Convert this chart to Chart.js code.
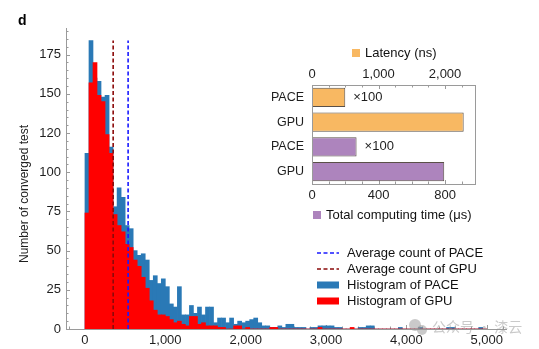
<!DOCTYPE html>
<html>
<head>
<meta charset="utf-8">
<script src="https://cdn.jsdelivr.net/npm/chart.js@4.4.1/dist/chart.umd.min.js"></script>
<style>
  html, body { margin: 0; padding: 0; background: #fff; }
  #wrap { position: relative; width: 539px; height: 349px; overflow: hidden; }
  #main { position: absolute; left: 0; top: 0; }
  #inset { position: absolute; left: 255px; top: 40px; }
</style>
</head>
<body>
<div id="wrap">
  <canvas id="main" width="539" height="349"></canvas>
  <canvas id="inset" width="240" height="190"></canvas>
</div>
<script>
// ---- histogram data: convergence counts per 50-wide bin, starting at 0 ----
const binWidth = 50;
const paceCounts = [
  112, 184, 160, 158, 148, 149, 116, 78, 90, 84,
  66, 64, 50, 47, 48, 44, 31, 34, 29, 32,
  27, 16, 14, 27, 9, 9, 15, 10, 14, 9,
  14, 14, 4, 7, 7, 4, 7, 3, 5, 4,
  5, 6, 7, 4, 2, 2, 1, 1, 2, 1,
  3, 3, 1, 1, 1, 0, 1, 1, 2, 2,
  2, 2, 1, 1, 0, 0, 0, 0, 1, 1,
  2, 2, 0, 0, 0, 0, 0, 0, 1, 0,
  0, 0, 0, 1, 0, 0, 0, 0, 0, 0,
  1, 1, 0, 0, 0, 0, 0, 0, 1, 0
];
const gpuCounts = [
  74, 157, 170, 149, 145, 124, 112, 73, 66, 62,
  54, 52, 44, 40, 33, 26, 18, 12, 9, 9,
  8, 6, 4, 5, 3, 2, 8, 8, 3, 4,
  2, 2, 2, 1, 1, 0, 0, 2, 2, 0,
  1, 0, 0, 0, 0, 0, 1, 1, 0, 0,
  0, 0, 0, 0, 0, 0, 0, 0, 1, 0,
  0, 0, 0, 0, 0, 0, 1, 0, 0, 0,
  0, 0, 0, 0, 0, 0, 0, 0, 0, 0,
  0, 0, 0, 0, 0, 0, 0, 0, 0, 0,
  0, 0, 0, 0, 0, 0, 0, 0, 0, 0
];
const paceAvg = 537;
const gpuAvg = 351;
const avgLineTop = 184;

const xTickValues = [0, 1000, 2000, 3000, 4000, 5000];
const yTickValues = [0, 25, 50, 75, 100, 125, 150, 175];
const yTickLabels = ['0', '25', '50', '75', '100', '120', '150', '175'];

// ---- inset data ----
const insetRows = ['PACE', 'GPU', 'PACE', 'GPU'];
const latencyNs = [500, 2280];        // PACE, GPU
const totalTimeUs = [268, 795];       // PACE, GPU
const speedupLabel = '\u00d7100';
const latencyTicks = [0, 1000, 2000];
const totalTimeTicks = [0, 400, 800];

const FONT = "'Liberation Sans', Arial, Helvetica, sans-serif";
const AXIS_GREY = '#9a9a9a';
const TEXT = '#1e1e1e';
const PACE_BLUE = '#2a79b6';
const GPU_RED = '#ff0000';
const PACE_DASH = '#1a1aff';
const GPU_DASH = '#8b0a0a';
const ORANGE = '#f8b862';
const PURPLE = '#ad84bd';

Chart.defaults.font.family = FONT;
Chart.defaults.font.size = 13;
Chart.defaults.color = TEXT;

function range(from, to, step) {
  const out = [];
  for (let v = from; v <= to + 1e-9; v += step) out.push(v);
  return out;
}
const fmt = v => Number(v).toLocaleString('en-US');

// small inward tick marks along the chart area edges
const inwardTicks = {
  id: 'inwardTicks',
  beforeDatasetsDraw(chart, args, opts) {
    const ctx = chart.ctx;
    const area = chart.chartArea;
    ctx.save();
    ctx.strokeStyle = opts.color || AXIS_GREY;
    ctx.lineWidth = 1;
    (opts.marks || []).forEach(m => {
      const scale = chart.scales[m.axis];
      m.values.forEach(v => {
        const p = Math.round(scale.getPixelForValue(v)) + 0.5;
        ctx.beginPath();
        if (m.edge === 'bottom') {
          ctx.moveTo(p, area.bottom); ctx.lineTo(p, area.bottom - m.len);
        } else if (m.edge === 'top') {
          ctx.moveTo(p, area.top); ctx.lineTo(p, area.top + m.len);
        } else {
          ctx.moveTo(area.left, p); ctx.lineTo(area.left + m.len, p);
        }
        ctx.stroke();
      });
    });
    ctx.restore();
  }
};

// axis title, panel letter, legend and watermark
const mainDecor = {
  id: 'mainDecor',
  afterDraw(chart) {
    const ctx = chart.ctx;
    ctx.save();

    ctx.fillStyle = '#000';
    ctx.font = 'bold 14px ' + FONT;
    ctx.textAlign = 'left';
    ctx.textBaseline = 'alphabetic';
    ctx.fillText('d', 18, 25);

    ctx.save();
    ctx.translate(25, 194);
    ctx.rotate(-Math.PI / 2);
    ctx.textAlign = 'center';
    ctx.textBaseline = 'middle';
    ctx.font = '12px ' + FONT;
    ctx.fillStyle = TEXT;
    ctx.fillText('Number of converged test', 0, 0);
    ctx.restore();

    // legend
    let y = 253;
    chart.data.datasets.forEach(ds => {
      if (ds.type === 'line') {
        ctx.strokeStyle = ds.borderColor;
        ctx.lineWidth = ds.borderWidth;
        ctx.setLineDash(ds.borderDash);
        ctx.beginPath();
        ctx.moveTo(317, y);
        ctx.lineTo(339, y);
        ctx.stroke();
        ctx.setLineDash([]);
      } else {
        ctx.fillStyle = ds.backgroundColor;
        ctx.fillRect(317, y - 3.5, 22, 7);
      }
      ctx.fillStyle = '#111';
      ctx.font = '13px ' + FONT;
      ctx.textAlign = 'left';
      ctx.textBaseline = 'middle';
      ctx.fillText(ds.label, 347, y);
      y += 16;
    });

    // faint watermark with a small chat-bubble icon
    ctx.fillStyle = 'rgba(150,150,150,0.5)';
    ctx.beginPath();
    ctx.arc(415, 325, 6, 0, Math.PI * 2);
    ctx.fill();
    ctx.beginPath();
    ctx.arc(422, 330, 5, 0, Math.PI * 2);
    ctx.fill();
    ctx.font = '14px "Noto Sans CJK SC", sans-serif';
    ctx.textBaseline = 'middle';
    ctx.fillText('公众号 · 漆云', 432, 327);
    ctx.restore();
  }
};

const binData = counts => counts.map((c, i) => ({ x: i * binWidth + binWidth / 2, y: c }));

new Chart(document.getElementById('main'), {
  type: 'bar',
  data: {
    datasets: [
      {
        type: 'line', label: 'Average count of PACE',
        data: [{ x: paceAvg, y: 0 }, { x: paceAvg, y: avgLineTop }],
        borderColor: PACE_DASH, borderWidth: 1.6, borderDash: [4, 2.5],
        pointRadius: 0, order: 0
      },
      {
        type: 'line', label: 'Average count of GPU',
        data: [{ x: gpuAvg, y: 0 }, { x: gpuAvg, y: avgLineTop }],
        borderColor: GPU_DASH, borderWidth: 1.6, borderDash: [4, 2.5],
        pointRadius: 0, order: 0
      },
      {
        label: 'Histogram of PACE', data: binData(paceCounts),
        backgroundColor: PACE_BLUE, borderWidth: 0,
        barPercentage: 1, categoryPercentage: 1, grouped: false, order: 2
      },
      {
        label: 'Histogram of GPU', data: binData(gpuCounts),
        backgroundColor: GPU_RED, borderWidth: 0,
        barPercentage: 1, categoryPercentage: 1, grouped: false, order: 1
      }
    ]
  },
  options: {
    responsive: false,
    animation: false,
    layout: { padding: { top: 28, right: 33, left: 0, bottom: 0 } },
    plugins: {
      legend: { display: false },
      tooltip: { enabled: false },
      inwardTicks: {
        color: AXIS_GREY,
        marks: [
          { axis: 'x', edge: 'bottom', values: xTickValues, len: 4 },
          { axis: 'x', edge: 'bottom', values: range(-200, 5200, 200), len: 2.5 },
          { axis: 'y', edge: 'left', values: yTickValues, len: 4 },
          { axis: 'y', edge: 'left', values: range(0, 190, 5), len: 2.5 }
        ]
      }
    },
    scales: {
      x: {
        type: 'linear', min: -236, max: 5240, offset: false,
        afterBuildTicks: s => { s.ticks = xTickValues.map(v => ({ value: v })); },
        afterFit: s => { s.height = 20; },
        grid: { display: false, drawTicks: false },
        border: { color: AXIS_GREY, width: 1 },
        ticks: { callback: v => fmt(v), padding: 4, maxRotation: 0, color: TEXT }
      },
      y: {
        min: 0, max: 192,
        afterBuildTicks: s => { s.ticks = yTickValues.map(v => ({ value: v })); },
        afterFit: s => { s.width = 66; },
        grid: { display: false, drawTicks: false },
        border: { color: AXIS_GREY, width: 1 },
        ticks: { callback: (v, i) => yTickLabels[i], padding: 5, color: TEXT }
      }
    }
  },
  plugins: [inwardTicks, mainDecor]
});

// ---- inset: latency / total computing time ----
const insetDecor = {
  id: 'insetDecor',
  afterDraw(chart) {
    const ctx = chart.ctx;
    const a = chart.chartArea;
    ctx.save();
    ctx.strokeStyle = AXIS_GREY;
    ctx.lineWidth = 1;
    ctx.strokeRect(Math.round(a.left) + 0.5, Math.round(a.top) + 0.5,
      Math.round(a.right - a.left), Math.round(a.bottom - a.top));

    // speed-up annotations next to the PACE bars
    ctx.fillStyle = TEXT;
    ctx.font = '13px ' + FONT;
    ctx.textAlign = 'left';
    ctx.textBaseline = 'middle';
    [[0, 0], [1, 2]].forEach(([d, i]) => {
      const bar = chart.getDatasetMeta(d).data[i];
      ctx.fillText(speedupLabel, bar.x + 8, bar.y);
    });

    // legend entries: one above, one below the frame
    const entries = [
      { ds: chart.data.datasets[0], x: a.left + 40, y: a.top - 32 },
      { ds: chart.data.datasets[1], x: a.left + 1, y: a.bottom + 31 }
    ];
    entries.forEach(e => {
      ctx.fillStyle = e.ds.backgroundColor;
      ctx.fillRect(e.x, e.y - 4, 8, 8);
      ctx.fillStyle = '#111';
      ctx.fillText(e.ds.label, e.x + 13, e.y);
    });
    ctx.restore();
  }
};

new Chart(document.getElementById('inset'), {
  type: 'bar',
  data: {
    labels: insetRows,
    datasets: [
      {
        label: 'Latency (ns)',
        data: [latencyNs[0], latencyNs[1], null, null],
        xAxisID: 'xTop', backgroundColor: ORANGE
      },
      {
        label: 'Total computing time (\u03bcs)',
        data: [null, null, totalTimeUs[0], totalTimeUs[1]],
        xAxisID: 'xBot', backgroundColor: PURPLE
      }
    ]
  },
  options: {
    responsive: false,
    animation: false,
    indexAxis: 'y',
    layout: { padding: { top: 25, bottom: 26, left: 0, right: 20 } },
    datasets: {
      bar: {
        grouped: false, barPercentage: 0.785, categoryPercentage: 1,
        borderColor: '#5a5048', borderWidth: 1, borderSkipped: false
      }
    },
    plugins: {
      legend: { display: false },
      tooltip: { enabled: false },
      inwardTicks: {
        color: AXIS_GREY,
        marks: [
          { axis: 'xTop', edge: 'top', values: latencyTicks, len: 4 },
          { axis: 'xTop', edge: 'top', values: range(0, 2400, 250), len: 2.5 },
          { axis: 'xBot', edge: 'bottom', values: totalTimeTicks, len: 4 },
          { axis: 'xBot', edge: 'bottom', values: range(0, 900, 100), len: 2.5 }
        ]
      }
    },
    scales: {
      y: {
        type: 'category', offset: true,
        afterFit: s => { s.width = 57; },
        grid: { display: false, drawTicks: false },
        border: { display: false },
        ticks: { padding: 8, font: { size: 12.5 }, color: TEXT }
      },
      xTop: {
        type: 'linear', position: 'top', min: 0, max: 2450,
        afterBuildTicks: s => { s.ticks = latencyTicks.map(v => ({ value: v })); },
        afterFit: s => { s.height = 20; },
        grid: { display: false, drawTicks: false },
        border: { display: false },
        ticks: { callback: v => fmt(v), padding: 3, maxRotation: 0, color: TEXT }
      },
      xBot: {
        type: 'linear', position: 'bottom', min: 0, max: 980,
        afterBuildTicks: s => { s.ticks = totalTimeTicks.map(v => ({ value: v })); },
        afterFit: s => { s.height = 20; },
        grid: { display: false, drawTicks: false },
        border: { display: false },
        ticks: { callback: v => fmt(v), padding: 4, maxRotation: 0, color: TEXT }
      }
    }
  },
  plugins: [inwardTicks, insetDecor]
});
</script>
</body>
</html>
